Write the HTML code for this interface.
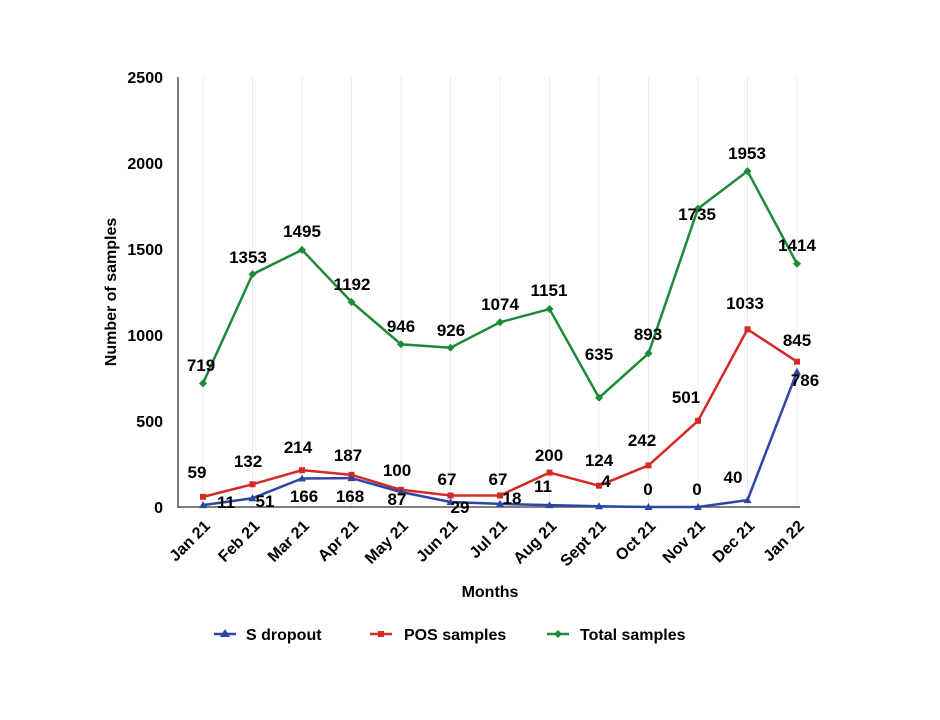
<!DOCTYPE html>
<html><head><style>body{margin:0;background:#fff}svg text{font-family:"Liberation Sans",Arial,sans-serif;font-weight:bold}</style></head>
<body>
<svg width="940" height="715" xmlns="http://www.w3.org/2000/svg">
<g id="g"></g>
<g font-size="16" text-anchor="end" fill="#000">
<text x="163" y="83">2500</text><text x="163" y="169">2000</text><text x="163" y="255">1500</text><text x="163" y="341">1000</text><text x="163" y="427">500</text><text x="163" y="513">0</text>
</g>
<text x="0" y="0" font-size="16" text-anchor="middle" transform="translate(116,292) rotate(-90)">Number of samples</text>
<text x="490" y="597" font-size="16" text-anchor="middle">Months</text>
<g font-size="16">
<line x1="214" y1="634" x2="236" y2="634" stroke="#2e45a8" stroke-width="2.5"/><polygon points="225,629 230,637 220,637" fill="#2e45a8"/>
<text x="246" y="640">S dropout</text>
<line x1="370" y1="634" x2="392" y2="634" stroke="#d42a25" stroke-width="2.5"/><rect x="378" y="631" width="6" height="6" fill="#d42a25"/>
<text x="404" y="640">POS samples</text>
<line x1="547" y1="634" x2="569" y2="634" stroke="#1d8a3a" stroke-width="2.5"/><polygon points="558,630 562,634 558,638 554,634" fill="#1d8a3a"/>
<text x="580" y="640">Total samples</text>
</g>
</svg>
<script>
const g=document.getElementById('g');
const X=i=>203+49.5*i, Y=v=>507-v*0.172;
let h='';
const months=["Jan 21","Feb 21","Mar 21","Apr 21","May 21","Jun 21","Jul 21","Aug 21","Sept 21","Oct 21","Nov 21","Dec 21","Jan 22"];
for(let i=0;i<13;i++){h+=`<line x1="${X(i)}" y1="77" x2="${X(i)}" y2="507" stroke="#ececec" stroke-width="1"/>`;
h+=`<text font-size="16" text-anchor="end" transform="translate(${X(i)+8},${527}) rotate(-45)">${months[i]}</text>`;}
h+=`<line x1="178" y1="77" x2="178" y2="508" stroke="#555" stroke-width="1.5"/><line x1="178" y1="507" x2="800" y2="507" stroke="#555" stroke-width="1.5"/>`;
const T=[719,1353,1495,1192,946,926,1074,1151,635,893,1735,1953,1414],P=[59,132,214,187,100,67,67,200,124,242,501,1033,845],S=[11,51,166,168,87,29,18,11,4,0,0,40,786];
function line(d,c){return `<polyline fill="none" stroke="${c}" stroke-width="2.5" points="${d.map((v,i)=>X(i)+','+Y(v)).join(' ')}"/>`;}
h+=line(T,'#1d8a3a')+line(P,'#d42a25')+line(S,'#2e45a8');
T.forEach((v,i)=>{const x=X(i),y=Y(v);h+=`<polygon points="${x},${y-4} ${x+4},${y} ${x},${y+4} ${x-4},${y}" fill="#1d8a3a"/>`});
P.forEach((v,i)=>{h+=`<rect x="${X(i)-3}" y="${Y(v)-3}" width="6" height="6" fill="#d42a25"/>`});
S.forEach((v,i)=>{const x=X(i),y=Y(v);h+=`<polygon points="${x},${y-4} ${x+4},${y+3} ${x-4},${y+3}" fill="#2e45a8"/>`});
const L=[[719,201,365],[1353,248,257],[1495,302,231],[1192,352,284],[946,401,326],[926,451,330],[1074,500,304],[1151,549,290],[635,599,354],[893,648,334],[1735,697,214],[1953,747,153],[1414,797,245],
[59,197,472],[132,248,461],[214,298,447],[187,348,455],[100,397,470],[67,447,479],[67,498,479],[200,549,455],[124,599,460],[242,642,440],[501,686,397],[1033,745,303],[845,797,340],
[11,226,502],[51,265,501],[166,304,496],[168,350,496],[87,397,499],[29,460,507],[18,512,498],[11,543,486],[4,606,481],[0,648,489],[0,697,489],[40,733,477],[786,805,380]];
L.forEach(([t,x,y])=>{h+=`<text x="${x}" y="${y+6}" font-size="17" text-anchor="middle">${t}</text>`});
g.innerHTML=h;
</script>
</body></html>
